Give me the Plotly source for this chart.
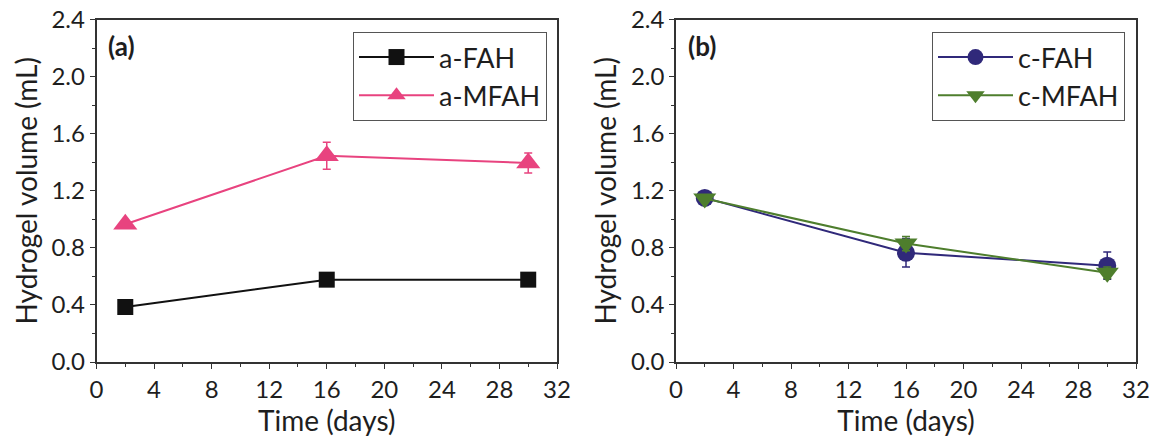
import plotly.graph_objects as go

days = [2, 16, 30]
a_fah = [0.385, 0.577, 0.577]
a_fah_err = [0.01, 0.01, 0.01]
a_mfah = [0.965, 1.445, 1.395]
a_mfah_err = [0.01, 0.095, 0.07]
c_fah = [1.15, 0.765, 0.675]
c_fah_err = [0.02, 0.1, 0.095]
c_mfah = [1.145, 0.83, 0.625]
c_mfah_err = [0.02, 0.05, 0.04]

x_ticks = [0, 4, 8, 12, 16, 20, 24, 28, 32]
y_ticks = [0.0, 0.4, 0.8, 1.2, 1.6, 2.0, 2.4]

FONT = "Lato, 'Open Sans', sans-serif"
TXT = "#1e1e1e"
fig = go.Figure()

def add(x, y, err, name, color, symbol, size, xa, ya, legend):
    fig.add_trace(go.Scatter(
        x=x, y=y, name=name, mode="lines+markers",
        line=dict(color=color, width=2),
        marker=dict(color=color, symbol=symbol, size=size),
        error_y=dict(type="data", array=err, color=color, thickness=1.5, width=4),
        xaxis=xa, yaxis=ya, legend=legend))

add(days, a_fah, a_fah_err, "a-FAH", "#111111", "square", 16, "x", "y", "legend")
add(days, a_mfah, a_mfah_err, "a-MFAH", "#E8437F", "triangle-up", 21, "x", "y", "legend")
add(days, c_fah, c_fah_err, "c-FAH", "#30297A", "circle", 18, "x2", "y2", "legend2")
add(days, c_mfah, c_mfah_err, "c-MFAH", "#4E7E2D", "triangle-down", 20, "x2", "y2", "legend2")

axcommon = dict(showline=True, linecolor="#333333", linewidth=1.5, mirror=True,
                ticks="outside", ticklen=5, tickwidth=1.2, tickcolor="#333333",
                showgrid=False, zeroline=False, automargin=False,
                tickfont=dict(family=FONT, size=24, color=TXT))
xaxis = dict(axcommon, range=[0, 32], tickvals=x_ticks,
             minor=dict(dtick=2, ticks="outside", ticklen=3, tickcolor="#333333"),
             title=dict(text="Time (days)", font=dict(family=FONT, size=28, color=TXT), standoff=0))
yaxis = dict(axcommon, range=[0, 2.4], tickvals=y_ticks, tickformat=".1f",
             minor=dict(dtick=0.2, ticks="outside", ticklen=3, tickcolor="#333333"),
             title=dict(text="Hydrogel volume (mL)", font=dict(family=FONT, size=28, color=TXT), standoff=6))

ydom = [1 - 362 / 439, 1 - 19.5 / 439]
legcommon = dict(bordercolor="#555555", borderwidth=1, bgcolor="white",
                 font=dict(family=FONT, size=27, color=TXT),
                 xanchor="right", yanchor="top", itemwidth=75, tracegroupgap=0)

fig.update_layout(
    width=1155, height=439, margin=dict(l=0, r=0, t=0, b=0, autoexpand=False),
    paper_bgcolor="white", plot_bgcolor="white",
    xaxis=dict(xaxis, domain=[96.5 / 1155, 557 / 1155], anchor="y"),
    yaxis=dict(yaxis, domain=ydom, anchor="x"),
    xaxis2=dict(xaxis, domain=[676 / 1155, 1136 / 1155], anchor="y2"),
    yaxis2=dict(yaxis, domain=ydom, anchor="x2"),
    legend=dict(legcommon, x=547 / 1155, y=1 - 32 / 439),
    legend2=dict(legcommon, x=1125 / 1155, y=1 - 32 / 439),
    annotations=[
        dict(text="<b>(a)</b>", x=106 / 1155, y=1 - 46 / 439, xref="paper", yref="paper",
             xanchor="left", yanchor="middle", showarrow=False,
             font=dict(family=FONT, size=26, color=TXT)),
        dict(text="<b>(b)</b>", x=686 / 1155, y=1 - 46 / 439, xref="paper", yref="paper",
             xanchor="left", yanchor="middle", showarrow=False,
             font=dict(family=FONT, size=26, color=TXT)),
    ],
)

fig.write_html("out.html")
